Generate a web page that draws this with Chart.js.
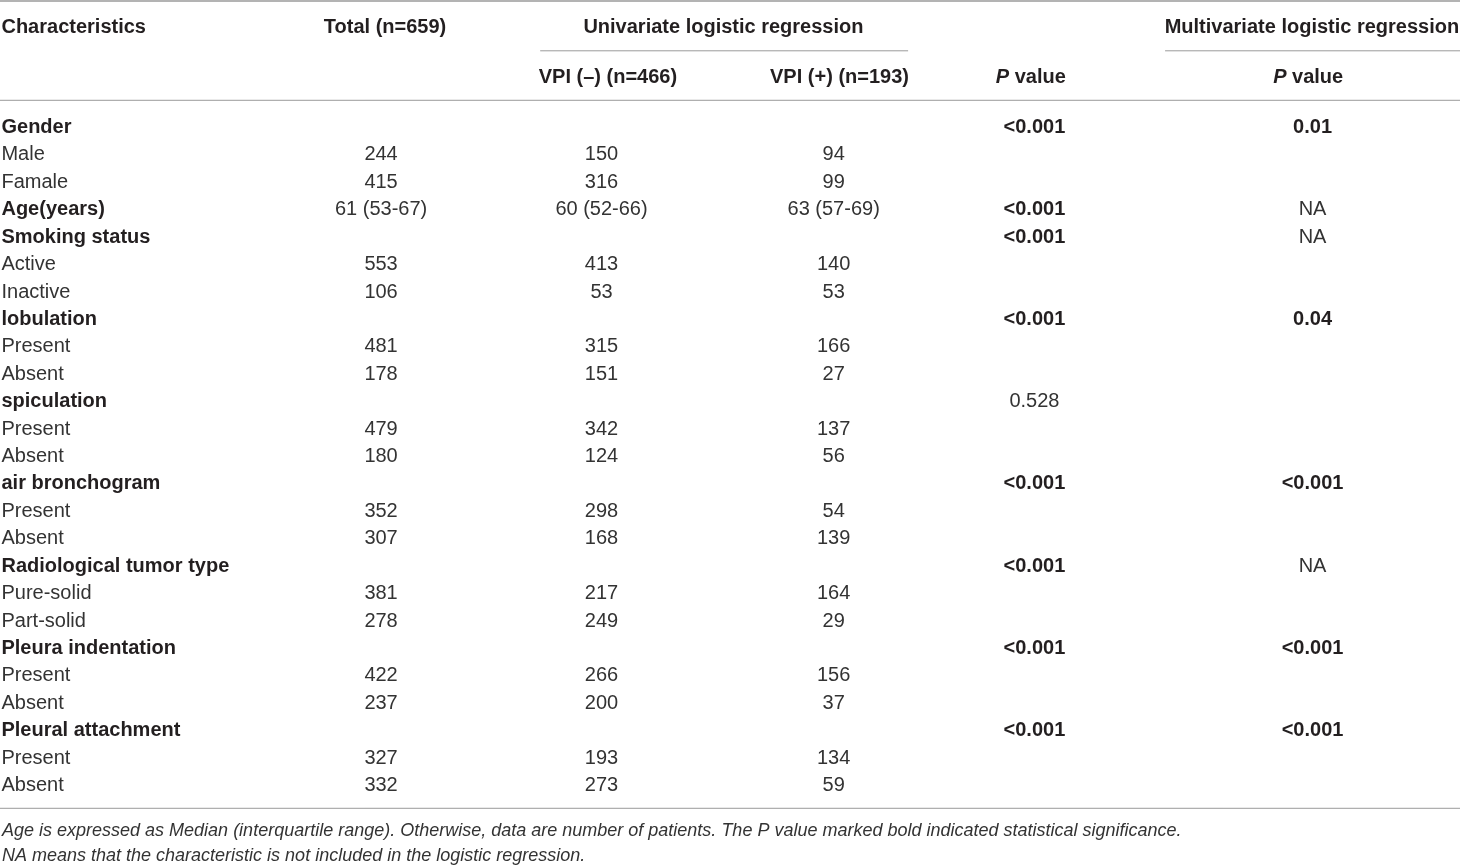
<!DOCTYPE html>
<html>
<head>
<meta charset="utf-8">
<title>VPI characteristics</title>
<script src="https://cdn.jsdelivr.net/npm/chart.js@4.4.0/dist/chart.umd.min.js"></script>
<style>
  html, body { margin: 0; padding: 0; background: #fff; }
  #wrap { width: 1460px; height: 865px; }
</style>
</head>
<body>
<div id="wrap"><canvas id="tableChart"></canvas></div>
<script>
// table rows (characteristics column)
const rowLabels = ['Gender', 'Male', 'Famale', 'Age(years)', 'Smoking status', 'Active', 'Inactive',
  'lobulation', 'Present', 'Absent', 'spiculation', 'Present', 'Absent', 'air bronchogram', 'Present', 'Absent',
  'Radiological tumor type', 'Pure-solid', 'Part-solid', 'Pleura indentation', 'Present', 'Absent',
  'Pleural attachment', 'Present', 'Absent'];
const groupRows = ['Gender', 'Age(years)', 'Smoking status', 'lobulation', 'spiculation', 'air bronchogram',
  'Radiological tumor type', 'Pleura indentation', 'Pleural attachment'];

const totalN = ['', '244', '415', '61 (53-67)', '', '553', '106', '', '481', '178', '', '479', '180',
  '', '352', '307', '', '381', '278', '', '422', '237', '', '327', '332'];
const vpiNeg = ['', '150', '316', '60 (52-66)', '', '413', '53', '', '315', '151', '', '342', '124',
  '', '298', '168', '', '217', '249', '', '266', '200', '', '193', '273'];
const vpiPos = ['', '94', '99', '63 (57-69)', '', '140', '53', '', '166', '27', '', '137', '56',
  '', '54', '139', '', '164', '29', '', '156', '37', '', '134', '59'];
const uniP = ['<0.001', '', '', '<0.001', '<0.001', '', '', '<0.001', '', '', '0.528', '', '',
  '<0.001', '', '', '<0.001', '', '', '<0.001', '', '', '<0.001', '', ''];
const multiP = ['0.01', '', '', 'NA', 'NA', '', '', '0.04', '', '', '', '', '',
  '<0.001', '', '', 'NA', '', '', '<0.001', '', '', '<0.001', '', ''];

const columns = [rowLabels, totalN, vpiNeg, vpiPos, uniP, multiP];

// layout: column anchors in % of table width
const colX = [0.1, 26.1, 41.2, 57.1, 70.85, 89.9];
const headX = { total: 26.37, vpiNeg: 41.64, vpiPos: 57.5, uniP: 70.6, multiP: 89.6, uni: 49.55, multi: 89.86 };

const FONT = '"Liberation Sans", Arial, sans-serif';
const TXT = '#231f20';
const TXT_LIGHT = '#333333';
const RULE = '#9a9a9a';

const isSignificant = v => v !== '' && v !== 'NA' && (v.startsWith('<') || parseFloat(v) < 0.05);

function isBold(c, i) {
  const v = columns[c][i];
  if (c === 0) return groupRows.includes(v);
  if (c >= 4) return isSignificant(v);
  return false;
}

const tablePlugin = {
  id: 'tablePlugin',
  afterDatasetsDraw(chart) {
    const ctx = chart.ctx;
    const x = chart.scales.x;
    const area = chart.chartArea;
    const W = chart.width;
    ctx.save();
    ctx.textBaseline = 'middle';

    // cells
    chart.data.datasets.forEach((ds, c) => {
      const meta = chart.getDatasetMeta(c);
      meta.data.forEach((pt, i) => {
        const v = columns[c][i];
        if (!v) return;
        const bold = isBold(c, i);
        ctx.font = (bold ? 'bold ' : '') + '20px ' + FONT;
        ctx.fillStyle = bold ? TXT : TXT_LIGHT;
        ctx.textAlign = c === 0 ? 'left' : 'center';
        ctx.fillText(v, pt.x, pt.y + 1.5);
      });
    });

    // header
    ctx.fillStyle = TXT;
    const h1 = area.top - 85, h2 = area.top - 34.5;
    ctx.font = 'bold 20px ' + FONT;
    ctx.textAlign = 'left';
    ctx.fillText('Characteristics', x.getPixelForValue(colX[0]), h1);
    ctx.textAlign = 'center';
    ctx.fillText('Total (n=659)', x.getPixelForValue(headX.total), h1);
    ctx.fillText('Univariate logistic regression', x.getPixelForValue(headX.uni), h1);
    ctx.fillText('Multivariate logistic regression', x.getPixelForValue(headX.multi), h1);
    ctx.fillText('VPI (\u2013) (n=466)', x.getPixelForValue(headX.vpiNeg), h2);
    ctx.fillText('VPI (+) (n=193)', x.getPixelForValue(headX.vpiPos), h2);
    [headX.uniP, headX.multiP].forEach(hx => {
      const cx = x.getPixelForValue(hx);
      ctx.font = 'italic bold 20px ' + FONT;
      const wP = ctx.measureText('P').width;
      ctx.font = 'bold 20px ' + FONT;
      const wRest = ctx.measureText(' value').width;
      const start = cx - (wP + wRest) / 2;
      ctx.textAlign = 'left';
      ctx.font = 'italic bold 20px ' + FONT;
      ctx.fillText('P', start, h2);
      ctx.font = 'bold 20px ' + FONT;
      ctx.fillText(' value', start + wP, h2);
      ctx.textAlign = 'center';
    });

    // rules
    ctx.strokeStyle = RULE;
    ctx.lineWidth = 1.5;
    const hline = (x0, x1, y) => {
      ctx.beginPath();
      ctx.moveTo(x0, y);
      ctx.lineTo(x1, y);
      ctx.stroke();
    };
    hline(0, W, 1);
    ctx.lineWidth = 1;
    hline(x.getPixelForValue(37), x.getPixelForValue(62.2), area.top - 61.5);
    hline(x.getPixelForValue(79.8), W, area.top - 61.5);
    hline(0, W, area.top - 12);
    hline(0, W, area.bottom + 10.5);

    // footnotes
    ctx.fillStyle = TXT_LIGHT;
    ctx.font = 'italic 18px ' + FONT;
    ctx.textAlign = 'left';
    ctx.fillText('Age is expressed as Median (interquartile range). Otherwise, data are number of patients. The P value marked bold indicated statistical significance.', 2, area.bottom + 33);
    ctx.fillText('NA means that the characteristic is not included in the logistic regression.', 2, area.bottom + 58);
    ctx.restore();
  }
};

const ctx = document.getElementById('tableChart').getContext('2d');
new Chart(ctx, {
  type: 'scatter',
  data: {
    datasets: columns.map((col, c) => ({
      label: 'col' + c,
      data: rowLabels.map((lab, i) => ({ x: colX[c], y: lab })),
      pointRadius: 0,
      pointHoverRadius: 0
    }))
  },
  options: {
    responsive: true,
    maintainAspectRatio: false,
    animation: false,
    layout: { padding: { top: 112.3, bottom: 67.2, left: 0, right: 0 } },
    plugins: { legend: { display: false }, tooltip: { enabled: false } },
    scales: {
      x: { type: 'linear', min: 0, max: 100, display: false },
      y: { type: 'category', labels: rowLabels, offset: true, display: false }
    }
  },
  plugins: [tablePlugin]
});
</script>
</body>
</html>
